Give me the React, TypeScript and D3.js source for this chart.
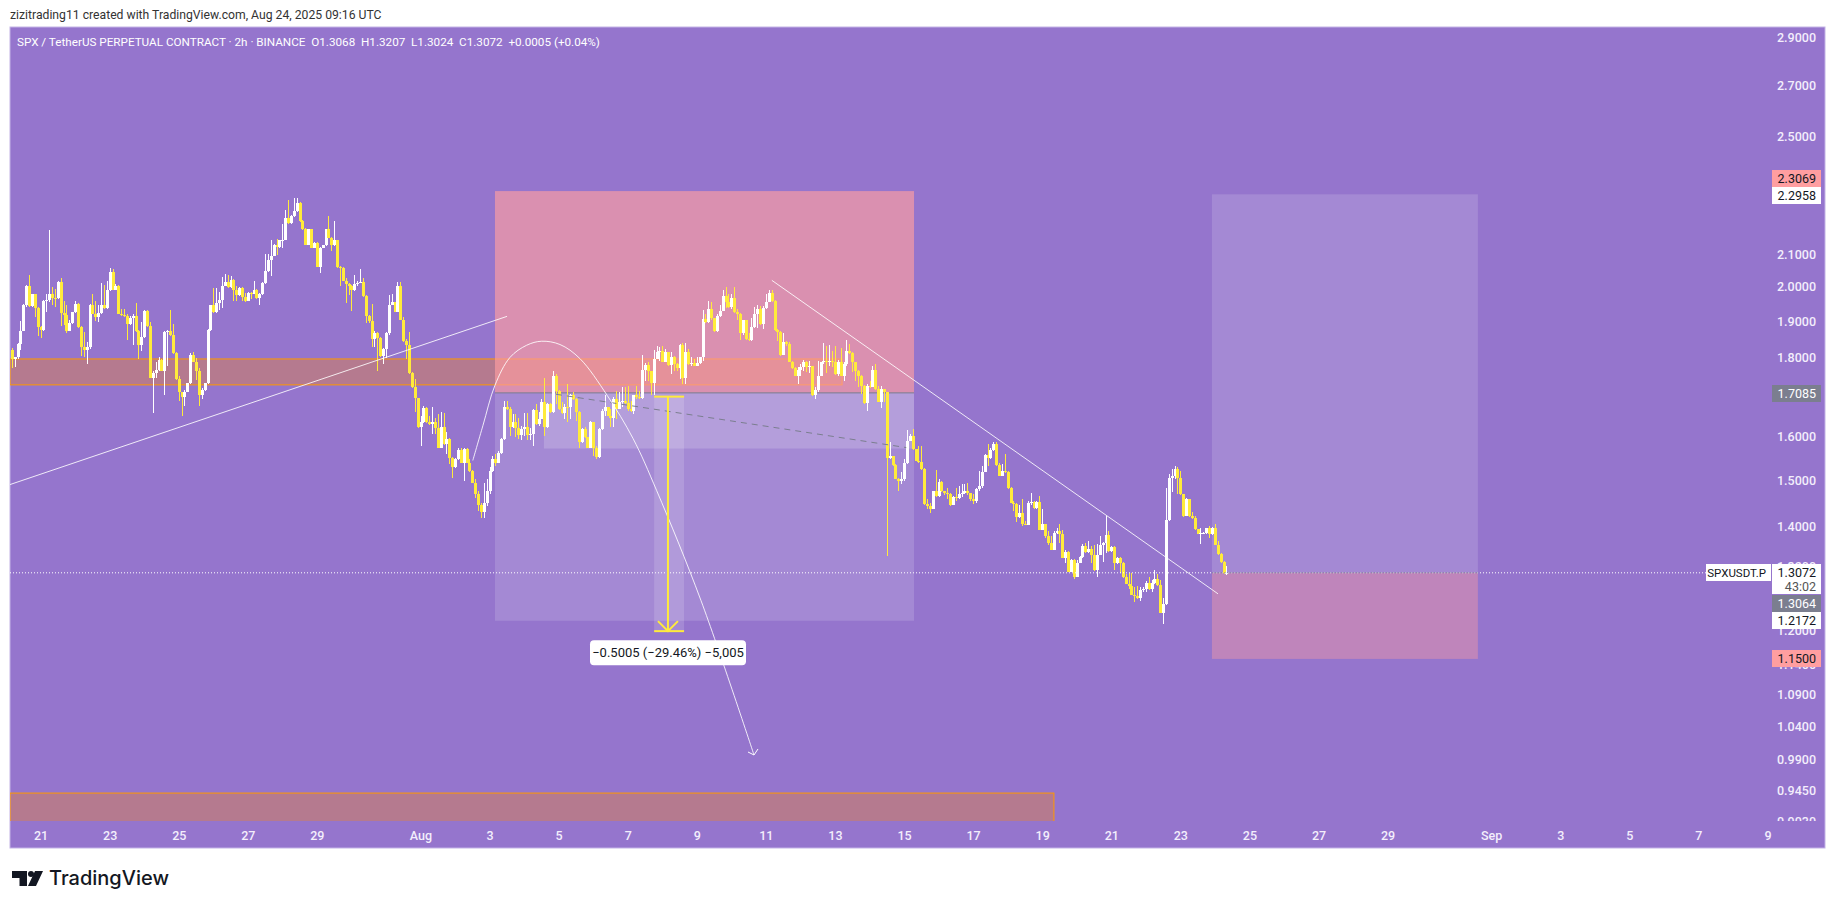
// SPX / TetherUS perpetual, 2h candles with drawings, TradingView snapshot look
import * as d3 from 'd3'

const firstOpen = 1.822
const closes = [
  1.797,1.801,1.837,1.874,1.946,2.004,1.944,1.978,1.939,1.884,1.877,1.960,1.962,1.980,1.968,1.967,2.016,1.924,1.918,1.874,
  1.896,1.926,1.950,1.884,1.828,1.822,1.828,1.948,1.921,1.912,1.924,1.946,1.938,1.990,2.045,1.992,2.004,1.921,1.918,1.915,
  1.893,1.909,1.915,1.874,1.835,1.856,1.931,1.886,1.748,1.759,1.768,1.795,1.766,1.870,1.874,1.863,1.812,1.744,1.710,1.699,
  1.712,1.733,1.808,1.790,1.766,1.704,1.717,1.733,1.876,1.946,1.926,1.953,1.963,2.004,2.016,1.999,2.021,1.992,1.975,1.996,
  1.970,1.958,1.982,1.980,1.992,1.968,1.978,2.012,2.047,2.083,2.095,2.130,2.123,2.144,2.146,2.215,2.200,2.222,2.239,2.267,
  2.207,2.181,2.130,2.179,2.121,2.135,2.062,2.121,2.128,2.179,2.152,2.128,2.146,2.060,2.058,2.019,2.009,2.004,1.990,2.009,
  2.011,2.014,1.973,1.915,1.901,1.851,1.867,1.854,1.805,1.824,1.867,1.947,1.955,1.928,2.004,1.905,1.845,1.835,1.759,1.723,
  1.695,1.623,1.635,1.670,1.635,1.631,1.637,1.621,1.575,1.623,1.583,1.595,1.551,1.529,1.548,1.569,1.540,1.571,1.540,1.520,
  1.495,1.469,1.447,1.430,1.451,1.476,1.520,1.548,1.540,1.563,1.595,1.672,1.668,1.623,1.635,1.621,1.605,1.619,1.623,1.605,
  1.607,1.666,1.631,1.643,1.685,1.623,1.681,1.660,1.751,1.714,1.668,1.658,1.674,1.672,1.702,1.693,1.660,1.587,1.619,1.599,
  1.575,1.637,1.575,1.553,1.619,1.664,1.672,1.651,1.645,1.693,1.668,1.685,1.687,1.682,1.668,1.664,1.702,1.699,1.695,1.768,
  1.781,1.766,1.733,1.797,1.817,1.819,1.790,1.815,1.782,1.803,1.784,1.773,1.835,1.748,1.817,1.784,1.787,1.779,1.787,1.801,
  1.907,1.898,1.936,1.910,1.872,1.917,1.931,1.972,1.955,1.941,1.968,1.926,1.921,1.867,1.903,1.851,1.849,1.884,1.921,1.936,
  1.893,1.939,1.957,1.982,1.960,1.877,1.870,1.808,1.842,1.837,1.790,1.773,1.753,1.768,1.775,1.790,1.775,1.777,1.702,1.716,
  1.753,1.788,1.792,1.788,1.792,1.790,1.757,1.790,1.753,1.784,1.819,1.812,1.788,1.766,1.753,1.727,1.682,1.727,1.724,1.768,
  1.718,1.686,1.718,1.710,1.551,1.555,1.534,1.504,1.498,1.502,1.540,1.591,1.603,1.571,1.544,1.542,1.525,1.449,1.444,1.438,
  1.476,1.466,1.496,1.476,1.471,1.469,1.446,1.464,1.462,1.469,1.473,1.477,1.471,1.459,1.454,1.480,1.488,1.519,1.558,1.551,
  1.569,1.584,1.534,1.510,1.521,1.518,1.482,1.451,1.449,1.421,1.428,1.405,1.404,1.451,1.452,1.439,1.453,1.394,1.406,1.380,
  1.367,1.353,1.388,1.391,1.385,1.337,1.349,1.309,1.332,1.299,1.327,1.338,1.361,1.349,1.355,1.342,1.312,1.343,1.363,1.367,
  1.383,1.350,1.358,1.327,1.337,1.326,1.300,1.286,1.282,1.265,1.263,1.259,1.275,1.276,1.287,1.277,1.288,1.296,1.284,1.232,
  1.247,1.414,1.506,1.510,1.525,1.506,1.469,1.423,1.459,1.423,1.418,1.396,1.385,1.386,1.388,1.397,1.384,1.397,1.363,1.344,
  1.328,1.306,1.3072,
]
const highs = [
  1.827,1.803,1.839,1.900,1.950,2.007,2.036,1.980,1.980,1.941,1.886,1.963,1.980,2.176,2.001,1.995,2.019,2.027,1.960,1.947,
  1.903,1.928,1.960,1.952,1.886,1.870,1.842,1.950,1.980,1.960,1.946,2.012,2.006,2.017,2.058,2.055,2.009,2.006,1.936,1.936,
  1.921,1.917,1.921,1.953,1.876,1.898,1.933,1.933,1.898,1.766,1.788,1.803,1.797,1.874,1.877,1.934,1.893,1.815,1.753,1.712,
  1.716,1.735,1.812,1.816,1.800,1.773,1.721,1.735,1.879,1.948,1.998,1.998,1.985,2.029,2.039,2.037,2.034,2.023,2.004,1.999,
  1.999,1.982,1.985,1.985,2.019,1.994,1.982,2.014,2.102,2.102,2.146,2.132,2.149,2.146,2.196,2.242,2.276,2.226,2.282,2.282,
  2.269,2.209,2.183,2.181,2.181,2.138,2.137,2.123,2.130,2.181,2.222,2.156,2.206,2.146,2.065,2.062,2.026,2.011,2.006,2.037,
  2.019,2.055,2.027,1.975,1.918,1.950,1.874,1.870,1.856,1.826,1.870,1.975,1.978,1.957,2.014,2.014,1.912,1.851,1.870,1.762,
  1.744,1.696,1.651,1.675,1.672,1.651,1.672,1.647,1.656,1.660,1.658,1.611,1.597,1.553,1.551,1.575,1.575,1.575,1.574,1.548,
  1.523,1.502,1.477,1.451,1.495,1.502,1.529,1.556,1.560,1.567,1.597,1.689,1.689,1.672,1.656,1.656,1.647,1.627,1.658,1.658,
  1.621,1.668,1.681,1.660,1.693,1.748,1.683,1.683,1.766,1.757,1.716,1.685,1.681,1.731,1.706,1.710,1.695,1.662,1.621,1.623,
  1.601,1.639,1.637,1.579,1.621,1.668,1.702,1.674,1.668,1.697,1.714,1.712,1.723,1.723,1.727,1.689,1.704,1.727,1.714,1.807,
  1.785,1.788,1.766,1.821,1.832,1.828,1.832,1.824,1.817,1.815,1.806,1.786,1.837,1.839,1.839,1.824,1.801,1.797,1.801,1.803,
  1.934,1.921,1.960,1.955,1.910,1.921,1.946,1.991,2.000,1.980,1.980,2.001,1.936,1.923,1.905,1.905,1.867,1.910,1.941,1.946,
  1.943,1.943,1.980,1.990,1.990,1.962,1.879,1.872,1.867,1.847,1.842,1.792,1.775,1.775,1.784,1.795,1.792,1.792,1.775,1.723,
  1.792,1.790,1.839,1.833,1.835,1.819,1.833,1.795,1.826,1.788,1.849,1.837,1.815,1.790,1.768,1.755,1.729,1.731,1.740,1.779,
  1.784,1.727,1.727,1.718,1.712,1.587,1.556,1.536,1.506,1.518,1.548,1.617,1.607,1.619,1.572,1.579,1.579,1.527,1.459,1.451,
  1.477,1.523,1.504,1.499,1.477,1.484,1.471,1.466,1.484,1.488,1.491,1.491,1.493,1.473,1.469,1.484,1.521,1.533,1.560,1.583,
  1.574,1.587,1.587,1.540,1.536,1.559,1.520,1.485,1.455,1.451,1.447,1.459,1.413,1.454,1.473,1.455,1.455,1.466,1.437,1.406,
  1.391,1.380,1.391,1.398,1.405,1.393,1.352,1.351,1.334,1.334,1.332,1.340,1.365,1.367,1.370,1.361,1.362,1.365,1.380,1.368,
  1.423,1.391,1.361,1.361,1.339,1.338,1.328,1.304,1.307,1.307,1.279,1.282,1.279,1.279,1.291,1.299,1.294,1.312,1.304,1.293,
  1.259,1.484,1.514,1.525,1.533,1.529,1.520,1.469,1.462,1.459,1.430,1.423,1.394,1.398,1.389,1.398,1.402,1.400,1.405,1.371,
  1.346,1.331,1.3207,
]
const lows = [
  1.773,1.775,1.797,1.822,1.874,1.941,1.941,1.941,1.912,1.860,1.853,1.874,1.926,1.955,1.946,1.941,1.965,1.888,1.890,1.867,
  1.872,1.893,1.923,1.882,1.804,1.801,1.784,1.824,1.920,1.900,1.898,1.921,1.935,1.936,1.988,1.990,1.990,1.920,1.915,1.912,
  1.849,1.891,1.835,1.870,1.797,1.819,1.854,1.884,1.747,1.659,1.748,1.766,1.764,1.702,1.779,1.860,1.810,1.741,1.687,1.651,
  1.676,1.710,1.731,1.788,1.741,1.676,1.693,1.714,1.731,1.874,1.923,1.924,1.933,1.939,2.002,1.996,1.997,1.960,1.958,1.973,
  1.960,1.957,1.958,1.965,1.978,1.966,1.946,1.976,2.010,2.045,2.032,2.093,2.097,2.121,2.118,2.144,2.198,2.198,2.220,2.237,
  2.204,2.178,2.128,2.128,2.118,2.118,2.060,2.042,2.118,2.126,2.150,2.110,2.126,2.058,2.002,2.017,1.952,1.975,1.931,1.988,
  2.002,2.012,1.971,1.895,1.895,1.828,1.828,1.764,1.803,1.784,1.800,1.863,1.946,1.926,1.926,1.903,1.843,1.797,1.757,1.721,
  1.661,1.621,1.579,1.633,1.633,1.628,1.607,1.607,1.573,1.574,1.580,1.560,1.537,1.506,1.527,1.546,1.539,1.499,1.539,1.518,
  1.493,1.462,1.433,1.419,1.419,1.444,1.469,1.518,1.533,1.539,1.561,1.592,1.666,1.603,1.621,1.599,1.595,1.592,1.603,1.592,
  1.592,1.579,1.629,1.627,1.643,1.603,1.621,1.658,1.658,1.681,1.665,1.656,1.643,1.635,1.643,1.691,1.639,1.574,1.585,1.597,
  1.574,1.574,1.556,1.548,1.551,1.617,1.651,1.650,1.625,1.623,1.643,1.668,1.672,1.681,1.662,1.660,1.655,1.693,1.693,1.693,
  1.740,1.740,1.702,1.702,1.797,1.792,1.788,1.788,1.779,1.757,1.766,1.764,1.744,1.731,1.731,1.782,1.779,1.777,1.779,1.784,
  1.792,1.896,1.896,1.903,1.870,1.870,1.914,1.931,1.938,1.939,1.936,1.924,1.903,1.849,1.863,1.849,1.847,1.847,1.882,1.881,
  1.891,1.879,1.936,1.955,1.957,1.874,1.847,1.805,1.808,1.833,1.788,1.770,1.751,1.731,1.753,1.764,1.762,1.759,1.700,1.693,
  1.712,1.751,1.784,1.759,1.777,1.775,1.755,1.753,1.751,1.738,1.779,1.810,1.762,1.740,1.723,1.706,1.681,1.662,1.721,1.723,
  1.715,1.685,1.670,1.685,1.340,1.548,1.533,1.502,1.477,1.491,1.499,1.538,1.590,1.569,1.543,1.540,1.523,1.447,1.437,1.428,
  1.437,1.464,1.464,1.474,1.468,1.459,1.444,1.447,1.455,1.459,1.464,1.469,1.468,1.455,1.449,1.451,1.477,1.484,1.518,1.533,
  1.549,1.567,1.533,1.509,1.509,1.516,1.480,1.450,1.433,1.409,1.419,1.402,1.403,1.404,1.447,1.437,1.437,1.393,1.393,1.377,
  1.363,1.352,1.352,1.384,1.367,1.336,1.327,1.308,1.314,1.296,1.299,1.326,1.337,1.347,1.347,1.327,1.310,1.300,1.342,1.328,
  1.347,1.349,1.349,1.312,1.325,1.307,1.298,1.285,1.277,1.264,1.252,1.257,1.253,1.270,1.270,1.275,1.270,1.286,1.282,1.231,
  1.212,1.246,1.412,1.475,1.502,1.469,1.468,1.421,1.423,1.421,1.416,1.394,1.384,1.365,1.384,1.384,1.377,1.383,1.362,1.343,
  1.327,1.304,1.3024,
]

// bar index 0 is the first candle on the chart
const firstBar = Date.UTC(2025, 6, 20, 4)
const lastTick = Date.UTC(2025, 8, 9)
const barMs = 2 * 3600 * 1000

const priceTicks = [2.9, 2.7, 2.5, 2.1, 2.0, 1.9, 1.8, 1.6, 1.5, 1.4, 1.32, 1.2, 1.14, 1.09, 1.04, 0.99, 0.945, 0.903]
const dateTicks: [number, number, string][] = [
  [6, 21, '21'], [6, 23, '23'], [6, 25, '25'], [6, 27, '27'], [6, 29, '29'], [7, 1, 'Aug'], [7, 3, '3'], [7, 5, '5'], [7, 7, '7'],
  [7, 9, '9'], [7, 11, '11'], [7, 13, '13'], [7, 15, '15'], [7, 17, '17'], [7, 19, '19'], [7, 21, '21'], [7, 23, '23'], [7, 25, '25'],
  [7, 27, '27'], [7, 29, '29'], [8, 1, 'Sep'], [8, 3, '3'], [8, 5, '5'], [8, 7, '7'], [8, 9, '9'],
]

// drawings, as [bar index, price]
const risingLine = [[-0.8, 1.4906], [171.9, 1.9146]]
const fallingLine = [[263.9, 2.02], [418.9, 1.267]]
const dashedLine = [[188.9, 1.705], [310.6, 1.575]]
const arcPoints = [
  [160, 1.545], [163.5, 1.627], [167.7, 1.728], [172.9, 1.801], [178.7, 1.834], [183.9, 1.845], [190.3, 1.836], [197.2, 1.798],
  [206.7, 1.702], [215.7, 1.596], [223.9, 1.477], [239.3, 1.254], [257.7, 0.9968],
]
const upperZone = { from: -0.8, to: 288.3, top: 1.797, bottom: 1.729 }
const lowerZone = { from: -0.8, to: 361.9, top: 0.9419, bottom: 0.9 }
const firstTrade = { from: 167.7, to: 313.3, stop: 2.3069, entry: 1.7085, target: 1.2172 }
const secondTrade = { from: 416.8, to: 509.2, target: 2.2958, entry: 1.3072, stop: 1.15 }
const innerBox = { from: 184.7, to: 313.3, top: 1.7085, bottom: 1.5727 }
const measure = { from: 223, to: 233.4, mid: 227.8, top: 1.699, bottom: 1.1985, label: '−0.5005 (−29.46%) −5,005' }
const lastPrice = 1.3072

const W = 1835
const H = 909
const plot = { left: 10, right: 1825, top: 27, bottom: 821, frameBottom: 848 }

const BG = '#9575cd'
const UP = '#ffffff'
const DOWN = '#ffeb3b'
const ORANGE = '#ff9800'
const PINK = '#ff9ea0'
const GRAY = '#7b7e8f'
const FONT = "Roboto, sans-serif"

const x = d3.scaleUtc().domain([firstBar, lastTick]).range([12.3, 1768])
const y = d3.scaleLog().domain([0.9022, 2.9405]).range([plot.bottom + 1, plot.top + 1])
const bx = (i: number) => x(firstBar + i * barMs)

const opens = closes.map((_, i) => (i === 0 ? firstOpen : closes[i - 1]))
const straight = d3.line<number[]>().x(d => bx(d[0])).y(d => y(d[1]))
const curved = d3.line<number[]>().x(d => bx(d[0])).y(d => y(d[1])).curve(d3.curveCatmullRom)

function Box({ from, to, top, bottom, fill }: { from: number; to: number; top: number; bottom: number; fill: string }) {
  return <rect x={bx(from)} width={bx(to) - bx(from)} y={y(top)} height={y(bottom) - y(top)} fill={fill} />
}

function Tag({ cy, text, fill, color, x0 = 1772, w = 49, size = 12.5 }: { cy: number; text: string; fill: string; color: string; x0?: number; w?: number; size?: number }) {
  return (
    <g>
      <rect x={x0} y={cy - 8.5} width={w} height={17} fill={fill} />
      <text x={x0 + w - 5} y={cy + 4.3} textAnchor="end" fontSize={size} fill={color}>{text}</text>
    </g>
  )
}

export default function App() {
  const tip = [bx(arcPoints[arcPoints.length - 1][0]), y(arcPoints[arcPoints.length - 1][1])]
  const mx = bx(measure.mid)
  const my = y(measure.bottom)
  return (
    <svg width={W} height={H} style={{ position: 'absolute', left: 0, top: 0, background: '#fff' }} fontFamily={FONT}>
      <defs>
        <clipPath id="pane"><rect x={plot.left} y={plot.top} width={1700} height={plot.bottom - plot.top} /></clipPath>
        <clipPath id="scale"><rect x={1700} y={plot.top} width={125} height={plot.bottom - plot.top} /></clipPath>
      </defs>

      <text x={10} y={18.5} fontSize={12.2} fill="#333">zizitrading11 created with TradingView.com, Aug 24, 2025 09:16 UTC</text>

      <rect x={plot.left} y={plot.top} width={plot.right - plot.left} height={plot.frameBottom - plot.top} fill={BG} stroke="#c3b3e6" />

      <g clipPath="url(#pane)">
        {[upperZone, lowerZone].map((z, i) => (
          <g key={i}>
            <Box from={z.from} to={z.to} top={z.top} bottom={z.bottom} fill="rgba(255,135,0,0.3)" />
            <rect x={bx(z.from)} width={bx(z.to) - bx(z.from)} y={y(z.top)} height={y(z.bottom) - y(z.top)} fill="none" stroke={ORANGE} />
          </g>
        ))}

        <Box from={firstTrade.from} to={firstTrade.to} top={firstTrade.stop} bottom={firstTrade.entry} fill="rgba(255,158,160,0.65)" />
        <Box from={firstTrade.from} to={firstTrade.to} top={firstTrade.entry} bottom={firstTrade.target} fill="rgba(255,255,255,0.15)" />
        <Box from={innerBox.from} to={innerBox.to} top={innerBox.top} bottom={innerBox.bottom} fill="rgba(255,255,255,0.18)" />
        <line x1={bx(firstTrade.from)} x2={bx(firstTrade.to)} y1={y(firstTrade.entry)} y2={y(firstTrade.entry)} stroke={GRAY} />

        <Box from={secondTrade.from} to={secondTrade.to} top={secondTrade.target} bottom={secondTrade.entry} fill="rgba(255,255,255,0.15)" />
        <Box from={secondTrade.from} to={secondTrade.to} top={secondTrade.entry} bottom={secondTrade.stop} fill="rgba(255,158,160,0.4)" />

        <Box from={measure.from} to={measure.to} top={measure.top} bottom={measure.bottom} fill="rgba(255,255,255,0.15)" />

        <g shapeRendering="crispEdges">
          {closes.map((c, i) => {
            const color = c >= opens[i] ? UP : DOWN
            const left = Math.round(bx(i) - 1.5)
            const top = y(Math.max(c, opens[i]))
            const bot = y(Math.min(c, opens[i]))
            return (
              <g key={i}>
                <rect x={left + 1} width={1} y={y(highs[i])} height={y(lows[i]) - y(highs[i])} fill={color} />
                <rect x={left} width={3} y={top} height={Math.max(bot - top, 1)} fill={color} />
              </g>
            )
          })}
        </g>

        <line x1={plot.left} x2={1706} y1={y(lastPrice)} y2={y(lastPrice)} stroke="#fff" strokeDasharray="1 2" />
        <line x1={bx(secondTrade.from)} x2={bx(secondTrade.to)} y1={y(lastPrice)} y2={y(lastPrice)} stroke={GRAY} strokeDasharray="2 1" strokeOpacity={0.7} />

        <path d={straight(risingLine as number[][]) ?? ''} fill="none" stroke="#fff" strokeOpacity={0.85} />
        <path d={straight(fallingLine as number[][]) ?? ''} fill="none" stroke="#fff" strokeOpacity={0.85} />
        <path d={straight(dashedLine as number[][]) ?? ''} fill="none" stroke={GRAY} strokeDasharray="6 5" />
        <path d={curved(arcPoints as number[][]) ?? ''} fill="none" stroke="#fff" strokeOpacity={0.85} />
        <path d={`M${tip[0] - 6},${tip[1] - 3}L${tip[0]},${tip[1]}L${tip[0] + 4},${tip[1] - 6}`} fill="none" stroke="#fff" />

        <line x1={bx(measure.from)} x2={bx(measure.to)} y1={y(measure.top)} y2={y(measure.top)} stroke={DOWN} strokeWidth={2} />
        <line x1={bx(measure.from)} x2={bx(measure.to)} y1={my} y2={my} stroke={DOWN} strokeWidth={2} />
        <line x1={mx} x2={mx} y1={y(measure.top)} y2={my} stroke={DOWN} strokeWidth={2} />
        <path d={`M${mx - 10},${my - 10}L${mx},${my}L${mx + 10},${my - 10}`} fill="none" stroke={DOWN} strokeWidth={2} />

        <rect x={590} y={my + 9} width={156} height={25} rx={4} fill="#fff" />
        <text x={668} y={my + 26} textAnchor="middle" fontSize={13} fill="#131722">{measure.label}</text>
      </g>

      <text x={17} y={46} fontSize={11.7} fill="#fff" xmlSpace="preserve">SPX / TetherUS PERPETUAL CONTRACT · 2h · BINANCE  O1.3068  H1.3207  L1.3024  C1.3072  +0.0005 (+0.04%)</text>

      <g clipPath="url(#scale)" fontSize={12.5} fontWeight={500} fill="#f3eefc" textAnchor="end">
        {priceTicks.map(p => (
          <text key={p} x={1816} y={y(p) + 4.3}>{p.toFixed(4)}</text>
        ))}
      </g>
      <g fontSize={12.5} fontWeight={500} fill="#f3eefc" textAnchor="middle">
        {dateTicks.map(([m, d, label]) => (
          <text key={`${m}-${d}`} x={x(Date.UTC(2025, m, d))} y={839.5}>{label}</text>
        ))}
      </g>

      <Tag cy={178.5} text="2.3069" fill={PINK} color="#131722" />
      <Tag cy={195.5} text="2.2958" fill="#fff" color="#131722" />
      <Tag cy={393.5} text="1.7085" fill={GRAY} color="#fff" />
      <rect x={1772} y={564} width={49} height={30} fill="#fff" />
      <text x={1816} y={576.5} textAnchor="end" fontSize={12.5} fill="#131722">1.3072</text>
      <text x={1816} y={591} textAnchor="end" fontSize={12.5} fill="#555">43:02</text>
      <Tag cy={603.5} text="1.3064" fill={GRAY} color="#fff" />
      <Tag cy={620.5} text="1.2172" fill="#fff" color="#131722" />
      <Tag cy={658.5} text="1.1500" fill={PINK} color="#131722" />
      <Tag cy={572.5} text="SPXUSDT.P" fill="#fff" color="#131722" x0={1706} w={65} size={11.5} />

      <g fill="#131722">
        <path d="M12 871h15v15h-7.5v-8h-7.5z" />
        <circle cx={31} cy={874} r={3} />
        <path d="M35 871h8l-7 15h-8z" />
        <text x={49} y={885} fontSize={20} fontWeight={500} fontFamily="Inter, sans-serif">TradingView</text>
      </g>
    </svg>
  )
}
